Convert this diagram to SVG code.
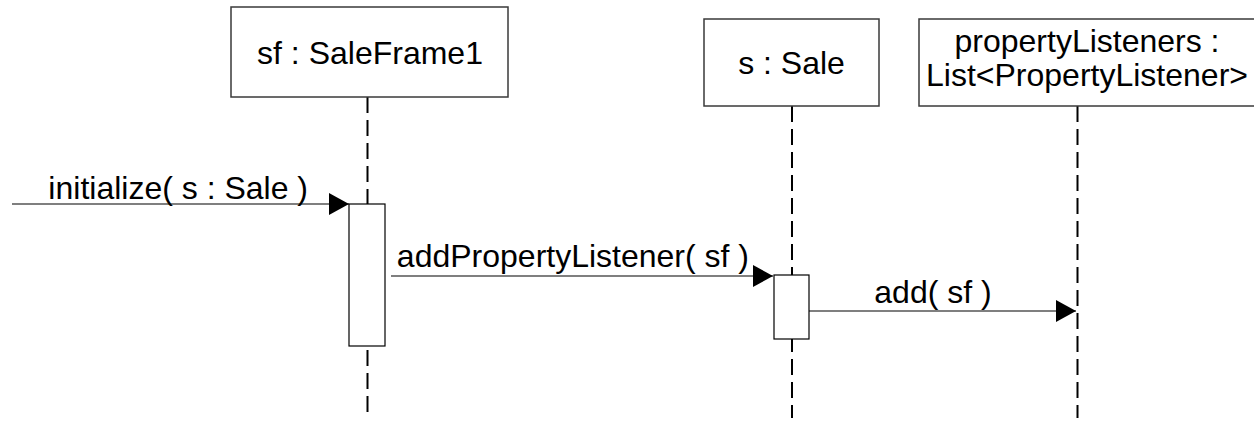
<svg xmlns="http://www.w3.org/2000/svg" width="1254" height="430" viewBox="0 0 1254 430">
  <style>
    .obj { fill: #ffffff; stroke: #3a3a3a; stroke-width: 1.5; }
    .act { fill: #ffffff; stroke: #000000; stroke-width: 1.2; }
    .life { stroke: #000000; stroke-width: 2; stroke-dasharray: 16 7; fill: none; }
    .msg { stroke: #000000; stroke-width: 1.2; fill: none; }
    .label { font-family: "Liberation Sans", Arial, sans-serif; font-size: 32px; fill: #000000; }
    .mid { text-anchor: middle; }
    .end { text-anchor: end; }
  </style>
  <defs>
    <marker id="arrow" markerUnits="userSpaceOnUse" markerWidth="20" markerHeight="22" refX="20" refY="11" orient="auto">
      <path d="M0,0 L20,11 L0,22 Z" fill="#000000"/>
    </marker>
  </defs>

  <!-- lifelines -->
  <g id="lifelines">
    <line class="life" x1="367.5" y1="97" x2="367.5" y2="418"/>
    <line class="life" x1="792" y1="106" x2="792" y2="418"/>
    <line class="life" x1="1077.5" y1="106" x2="1077.5" y2="418"/>
  </g>

  <!-- object heads -->
  <g id="sf">
    <rect class="obj" x="231" y="7" width="277" height="90"/>
    <text class="label mid" x="370" y="64">sf : SaleFrame1</text>
  </g>
  <g id="s">
    <rect class="obj" x="704" y="19" width="175" height="87"/>
    <text class="label mid" x="791.5" y="74">s : Sale</text>
  </g>
  <g id="propertyListeners">
    <rect class="obj" x="919" y="19" width="340" height="87"/>
    <text class="label mid" x="1087" y="52">propertyListeners :</text>
    <text class="label mid" x="1087" y="86">List&lt;PropertyListener&gt;</text>
  </g>

  <!-- activation bars -->
  <g id="sf-activation">
    <rect class="act" x="349" y="204" width="36" height="142"/>
  </g>
  <g id="s-activation">
    <rect class="act" x="774" y="275" width="35" height="64"/>
  </g>

  <!-- messages -->
  <g id="connectors">
    <line class="msg" x1="12" y1="204" x2="349" y2="204" marker-end="url(#arrow)"/>
    <text class="label end" x="308" y="199">initialize( s : Sale )</text>

    <line class="msg" x1="391" y1="276" x2="773" y2="276" marker-end="url(#arrow)"/>
    <text class="label end" x="749" y="267">addPropertyListener( sf )</text>

    <line class="msg" x1="809" y1="311" x2="1076" y2="311" marker-end="url(#arrow)"/>
    <text class="label mid" x="933" y="303">add( sf )</text>
  </g>
</svg>
